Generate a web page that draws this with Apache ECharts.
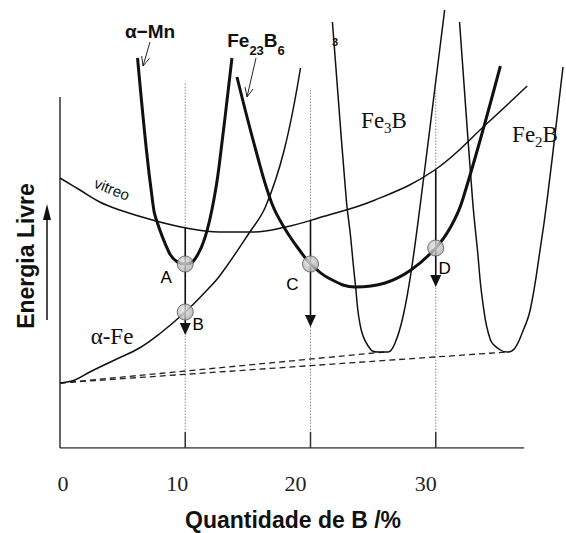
<!DOCTYPE html>
<html>
<head>
<meta charset="utf-8">
<script src="https://cdn.jsdelivr.net/npm/echarts@6/dist/echarts.min.js"></script>
<style>
  html, body { margin: 0; padding: 0; background: #fff; }
  #chart { width: 566px; height: 533px; }
</style>
</head>
<body>
<div id="chart"></div>
<script>
// Free-energy vs. composition sketch for the Fe–B system (energy in arbitrary units)

// Composition axis (at.% B)
const xTickValues = [0, 10, 20, 30];
const xAxisEnd = 37.06;
const yAxisTop = 87.75;

// Glassy phase ("vitreo")
const vitreoX = [0, 1.59, 3.17, 4.76, 7.38, 10.08, 12.7, 15.32, 18.02, 20.63, 25.16, 29.92, 34.13, 37.3];
const vitreoY = [67.5, 64.5, 61.5, 59.5, 57, 55, 54, 54, 55.25, 57.5, 62, 69.5, 81.25, 90.5];

// alpha-Fe solid solution
const alphaFeX = [0, 1.19, 2.38, 4.37, 6.35, 7.94, 10, 11.6, 12.8, 15.1, 16.4, 17.9, 19.2];
const alphaFeY = [16.25, 17, 19, 22, 25, 28.5, 34, 39, 43.25, 53.75, 60.25, 74.5, 95];

// alpha-Mn type phase
const alphaMnX = [6.19, 6.9, 7.38, 7.62, 8.73, 9.37, 10, 10.72, 11.59, 12.38, 12.86, 13.73];
const alphaMnY = [97.5, 74.5, 62, 57.75, 48.75, 46.5, 46, 47, 52.75, 63.75, 74.5, 97.5];

// Fe23B6
const fe23b6X = [14.13, 15.63, 16.9, 18.02, 19.29, 20, 21.43, 23.57, 25.95, 28.02, 30, 31.19, 32.14, 35.16];
const fe23b6Y = [92.75, 74.5, 61.25, 54.5, 48.75, 46, 42.5, 40.25, 41.25, 44.5, 50, 55.25, 62, 95.5];

// Fe3B
const fe3bX = [21.75, 22.86, 23.17, 23.57, 24.05, 24.84, 25.4, 26.19, 26.75, 27.38, 28.02, 28.81, 30.71];
const fe3bY = [106.5, 62, 53.75, 41.25, 29.5, 24.5, 24, 24, 26.25, 32.75, 43.75, 62, 109.5];

// Fe2B
const fe2bX = [31.9, 32.94, 33.33, 33.73, 34.37, 35.16, 35.71, 36.27, 36.9, 37.54, 38.33, 38.89, 40.16];
const fe2bY = [106.5, 62, 49.5, 37, 27, 24.5, 24, 24.75, 28.75, 34.5, 49.5, 62, 95.25];

// Common tangents from pure Fe to the Fe3B and Fe2B minima
const tangentStart = [0, 16.25];
const tangentEndX = [25.9, 35.7];
const tangentEndY = [24, 24];

// Marked states A–D
const pointNames = ['A', 'B', 'C', 'D'];
const pointX = [10, 10, 20, 30];
const pointY = [46, 34, 46, 50];

// Transformation arrows (composition, start energy, tip energy)
const arrowX = [10, 20, 30];
const arrowFromY = [55, 57, 69.5];
const arrowToY = [28.25, 30.25, 40.25];

// Dotted composition guides
const guideX = [10, 20, 30];
const guideTopY = [91.5, 89.5, 89.5];

const SANS = '"Liberation Sans", Arial, Helvetica, sans-serif';
const SERIF = '"Liberation Serif", "Times New Roman", serif';
const INK = '#111';

const pairs = (xs, ys) => xs.map((x, i) => [x, ys[i]]);

function curve(name, xs, ys, width) {
  return {
    name, type: 'line', data: pairs(xs, ys), smooth: 0.4, symbol: 'none',
    lineStyle: { color: INK, width }, z: 3, silent: true
  };
}

function segment(name, a, b, style, z) {
  return { name, type: 'line', data: [a, b], symbol: 'none', lineStyle: style, z: z || 2, silent: true };
}

// thin pointer arrow with an open head (label call-outs)
function pointer(x1, y1, x2, y2) {
  const L = Math.hypot(x2 - x1, y2 - y1);
  const bx = (x1 - x2) / L, by = (y1 - y2) / L;
  const a = 0.42, h = 10, c = Math.cos(a), s = Math.sin(a);
  const p1 = [x2 + h * (bx * c - by * s), y2 + h * (bx * s + by * c)];
  const p2 = [x2 + h * (bx * c + by * s), y2 + h * (-bx * s + by * c)];
  return [
    { type: 'line', shape: { x1, y1, x2, y2 }, style: { stroke: '#222', lineWidth: 1 } },
    { type: 'polyline', shape: { points: [p1, [x2, y2], p2] }, style: { stroke: '#222', lineWidth: 1, fill: null } }
  ];
}

const series = [];

// dotted guides down to the axis
guideX.forEach((x, i) => {
  series.push(segment('guia' + x, [x, 0], [x, guideTopY[i]], { color: '#8a8a8a', width: 1, type: [1.5, 1.5] }, 1));
});

// axes drawn as plain segments
series.push(segment('eixoX', [0, 0], [xAxisEnd, 0], { color: '#333', width: 1.5 }, 2));
series.push(segment('eixoY', [0, 0], [0, yAxisTop], { color: '#333', width: 1.5 }, 2));
xTickValues.filter(v => v > 0).forEach(v => {
  series.push(segment('tick' + v, [v, 0], [v, 4], { color: '#333', width: 1.5 }, 2));
});

// common tangents
tangentEndX.forEach((x, i) => {
  series.push(segment('tangente' + i, tangentStart, [x, tangentEndY[i]], { color: '#222', width: 1.3, type: [6, 4] }, 2));
});

series.push(curve('vitreo', vitreoX, vitreoY, 1.5));
series.push(curve('α-Fe', alphaFeX, alphaFeY, 1.5));
series.push(curve('Fe3B', fe3bX, fe3bY, 1.5));
series.push(curve('Fe2B', fe2bX, fe2bY, 1.5));
series.push(curve('α-Mn', alphaMnX, alphaMnY, 3));
series.push(curve('Fe23B6', fe23b6X, fe23b6Y, 3));

// vertical transformation arrows
series.push({
  name: 'setas', type: 'custom', z: 5, silent: true,
  data: arrowX.map((x, i) => [x, arrowFromY[i], arrowToY[i]]),
  encode: { x: 0, y: [1, 2] },
  renderItem(params, api) {
    const p0 = api.coord([api.value(0), api.value(1)]);
    const p1 = api.coord([api.value(0), api.value(2)]);
    const hl = 12, hw = 5.5;
    return {
      type: 'group',
      children: [
        { type: 'line', shape: { x1: p0[0], y1: p0[1], x2: p1[0], y2: p1[1] - hl + 1 }, style: { stroke: INK, lineWidth: 1.6 } },
        { type: 'polygon', shape: { points: [[p1[0] - hw, p1[1] - hl], [p1[0] + hw, p1[1] - hl], [p1[0], p1[1]]] }, style: { fill: INK } }
      ]
    };
  }
});

// labelled states: grey markers
series.push({
  name: 'estados', type: 'scatter', z: 10, silent: true,
  symbolSize: 16,
  itemStyle: {
    color: new echarts.graphic.RadialGradient(0.42, 0.4, 0.65, [
      { offset: 0, color: '#e4e4e4' }, { offset: 1, color: '#a9a9a9' }
    ]),
    borderColor: '#555', borderWidth: 1
  },
  data: pairs(pointX, pointY)
});

// state letters next to the markers
const labelOffsets = [[-19, 13], [13, 12], [-18, 20], [9, 20]];
series.push({
  name: 'letras', type: 'custom', z: 11, silent: true,
  data: pointNames.map((n, i) => [pointX[i], pointY[i]]),
  encode: { x: 0, y: 1 },
  renderItem(params, api) {
    const p = api.coord([api.value(0), api.value(1)]);
    const o = labelOffsets[params.dataIndex];
    return {
      type: 'text',
      x: p[0] + o[0], y: p[1] + o[1],
      style: {
        text: pointNames[params.dataIndex], font: '17px ' + SANS, fill: '#000',
        align: 'center', verticalAlign: 'middle'
      }
    };
  }
});

const graphics = [
  // y-axis title and its upward arrow
  { type: 'text', x: 26, y: 256, rotation: Math.PI / 2,
    style: { text: 'Energia Livre', font: 'bold 23px ' + SANS, fill: INK, align: 'center', verticalAlign: 'middle' } },
  { type: 'line', shape: { x1: 47, y1: 320, x2: 47, y2: 214 }, style: { stroke: INK, lineWidth: 1.5 } },
  { type: 'polygon', shape: { points: [[43, 220], [51, 220], [47, 204]] }, style: { fill: INK } },
  // x-axis title
  { type: 'text', x: 293, y: 520,
    style: { text: 'Quantidade de B /%', font: 'bold 23px ' + SANS, fill: INK, align: 'center', verticalAlign: 'middle' } },
  // phase names
  { type: 'text', x: 150, y: 31,
    style: { text: 'α−Mn', font: 'bold 19px ' + SANS, fill: INK, align: 'center', verticalAlign: 'middle' } },
  { type: 'text', x: 256, y: 40,
    style: {
      text: '{n|Fe}{s|23}{n|B}{s|6}', align: 'center', verticalAlign: 'middle', fill: INK,
      rich: {
        n: { fontFamily: SANS, fontSize: 19, fontWeight: 'bold', lineHeight: 22, fill: INK },
        s: { fontFamily: SANS, fontSize: 13, fontWeight: 'bold', lineHeight: 13, padding: [20, 0, 0, 0], fill: INK }
      }
    } },
  { type: 'text', x: 335, y: 42,
    style: { text: '3', font: 'bold 11px ' + SANS, fill: INK, align: 'center', verticalAlign: 'middle' } },
  { type: 'text', x: 112, y: 189, rotation: -0.38,
    style: { text: 'vitreo', font: '15px ' + SANS, fill: INK, align: 'center', verticalAlign: 'middle' } },
  { type: 'text', x: 384, y: 120,
    style: {
      text: '{n|Fe}{s|3}{n|B}', align: 'center', verticalAlign: 'middle', fill: INK,
      rich: {
        n: { fontFamily: SERIF, fontSize: 23, lineHeight: 24, fill: INK },
        s: { fontFamily: SERIF, fontSize: 15, lineHeight: 15, padding: [16, 0, 0, 0], fill: INK }
      }
    } },
  { type: 'text', x: 535, y: 134,
    style: {
      text: '{n|Fe}{s|2}{n|B}', align: 'center', verticalAlign: 'middle', fill: INK,
      rich: {
        n: { fontFamily: SERIF, fontSize: 23, lineHeight: 24, fill: INK },
        s: { fontFamily: SERIF, fontSize: 15, lineHeight: 15, padding: [16, 0, 0, 0], fill: INK }
      }
    } },
  { type: 'text', x: 112, y: 336,
    style: { text: 'α-Fe', font: '23px ' + SERIF, fill: INK, align: 'center', verticalAlign: 'middle' } }
].concat(pointer(150, 42, 143, 66), pointer(256, 58, 247, 97));

const tickRich = {};
const tickPad = { 0: [0, 0, 0, 6], 10: [0, 16, 0, 0], 20: [0, 30, 0, 0], 30: [0, 20, 0, 0] };
xTickValues.forEach(v => {
  tickRich['t' + v] = { fontFamily: SERIF, fontSize: 22, color: '#222', padding: tickPad[v] };
});

const chart = echarts.init(document.getElementById('chart'), null, { renderer: 'svg', width: 566, height: 533 });
chart.setOption({
  animation: false,
  backgroundColor: '#fff',
  grid: { left: 60, right: 0, top: 0, bottom: 85, containLabel: false },
  xAxis: {
    type: 'value', min: 0, max: 40.16, interval: 10,
    axisLine: { show: false }, axisTick: { show: false }, splitLine: { show: false },
    axisLabel: {
      margin: 24, fontFamily: SERIF, fontSize: 22, color: '#222',
      formatter: v => (xTickValues.indexOf(v) >= 0 ? '{t' + v + '|' + v + '}' : ''),
      rich: tickRich
    }
  },
  yAxis: {
    type: 'value', min: 0, max: 112,
    axisLine: { show: false }, axisTick: { show: false }, splitLine: { show: false }, axisLabel: { show: false }
  },
  series,
  graphic: graphics
});
</script>
</body>
</html>
